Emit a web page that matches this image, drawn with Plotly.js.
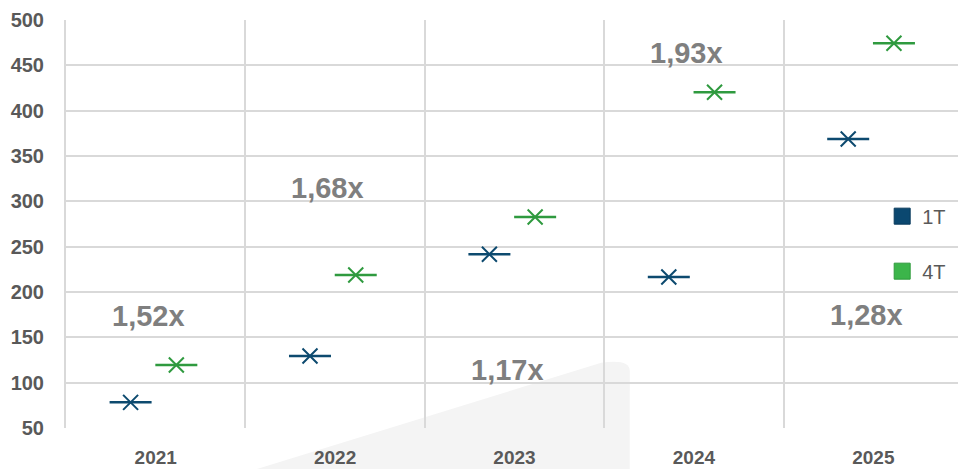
<!DOCTYPE html>
<html>
<head>
<meta charset="utf-8">
<script src="https://cdn.plot.ly/plotly-3.0.1.min.js"></script>
<style>html,body{margin:0;padding:0;background:#fff;}#chart{width:958px;height:469px;}</style>
</head>
<body>
<div id="chart"></div>
<script>
const years = ["2021", "2022", "2023", "2024", "2025"];
const series1T = [78.3, 129.4, 241.6, 216.5, 368.7];
const series4T = [119.4, 218.7, 282.7, 420.3, 474.3];
const ratioLabels = ["1,52x", "1,68x", "1,17x", "1,93x", "1,28x"];
const ratioLabelY = [173.5, 314.7, 114, 463.6, 174.6];
const yTicks = [50, 100, 150, 200, 250, 300, 350, 400, 450, 500];

const C1 = "#0d4a6f", C4 = "#2f9a3f";
const idx = years.map((_, i) => i);
const off1 = -0.14, off4 = 0.115;

function markTraces(vals, off, color) {
  const xs = idx.map(i => i + off);
  return [
    {x: xs, y: vals, type: "scatter", mode: "markers", showlegend: false, hoverinfo: "y",
     marker: {symbol: "line-ew", size: 30, color: color, line: {color: color, width: 2.5}}},
    {x: xs, y: vals, type: "scatter", mode: "markers", showlegend: false, hoverinfo: "y",
     marker: {symbol: "x-thin", size: 15, color: color, line: {color: color, width: 2}}}
  ];
}

const traces = [
  ...markTraces(series1T, off1, C1),
  ...markTraces(series4T, off4, C4),
  {x: [null], y: [null], type: "scatter", mode: "markers", name: "1T", legendgroup: "a",
   marker: {symbol: "square", size: 20, color: "#0b4870", line: {color: "#083a5c", width: 1}}},
  {x: [null], y: [null], type: "scatter", mode: "markers", name: "4T", legendgroup: "b",
   marker: {symbol: "square", size: 20, color: "#3cb54a", line: {color: "#2e9a3c", width: 1}}}
];

const annotations = ratioLabels.map((t, i) => ({
  x: i - 0.04, y: ratioLabelY[i], xref: "x", yref: "y", text: t, showarrow: false,
  font: {family: "Liberation Sans, Arial, sans-serif", size: 29, color: "#7f7f7f", weight: "bold"}
}));

const layout = {
  width: 958, height: 469,
  margin: {l: 66, r: 0, t: 20, b: 41},
  paper_bgcolor: "#fff", plot_bgcolor: "rgba(0,0,0,0)",
  font: {family: "Liberation Sans, Arial, sans-serif", color: "#595959"},
  xaxis: {
    range: [-0.5, 4.472], tickmode: "array", tickvals: idx, ticktext: years,
    showgrid: false, zeroline: false, showline: false, ticks: "",
    ticklabelstandoff: 16,
    tickfont: {size: 19, color: "#595959", weight: "bold"},
    minor: {tickmode: "linear", tick0: -0.5, dtick: 1, showgrid: true, gridcolor: "#d9d9d9", gridwidth: 2, ticks: ""}
  },
  yaxis: {
    range: [50, 500], tickmode: "array", tickvals: yTicks,
    showgrid: true, gridcolor: "#d9d9d9", gridwidth: 2, zeroline: false,
    showline: true, linecolor: "#d9d9d9", linewidth: 2, ticks: "",
    ticklabelstandoff: 16,
    tickfont: {size: 20, color: "#595959", weight: "bold"}
  },
  showlegend: true,
  legend: {x: 0.915, xanchor: "left", y: 0.567, yanchor: "top", traceorder: "grouped",
           tracegroupgap: 26, bgcolor: "rgba(0,0,0,0)",
           font: {size: 20, color: "#595959", family: "Liberation Sans, Arial, sans-serif"},
           itemwidth: 30},
  annotations: annotations,
  shapes: [{
    type: "path", xref: "paper", yref: "paper", layer: "below",
    path: "M 0.2 -0.11 L 0.6 0.16 Q 0.632 0.17 0.632 0.14 L 0.632 -0.11 Z",
    fillcolor: "#f4f4f4", line: {width: 0}
  }]
};

Plotly.newPlot("chart", traces, layout, {displayModeBar: false, staticPlot: true});
</script>
</body>
</html>
